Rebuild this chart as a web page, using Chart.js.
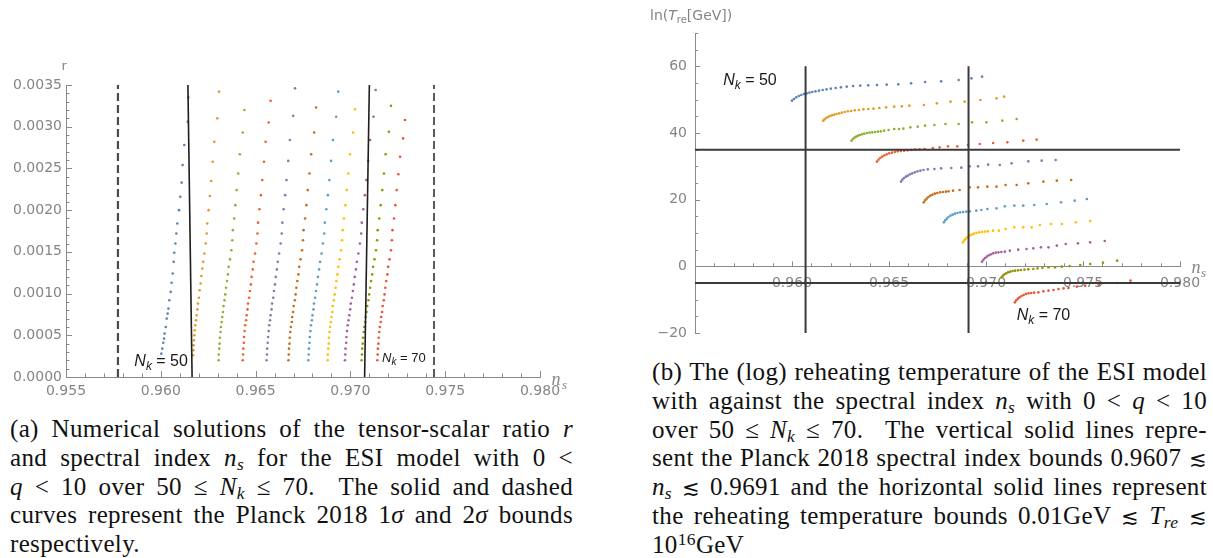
<!DOCTYPE html>
<html><head><meta charset="utf-8">
<script src="https://cdn.jsdelivr.net/npm/chart.js@4.4.1/dist/chart.umd.min.js"></script>
<style>
html,body{margin:0;padding:0;background:#fff;}
body{width:1213px;height:558px;overflow:hidden;position:relative;}
#c1{position:absolute;left:0;top:0;}
#c2{position:absolute;left:600px;top:0;}
.cap{position:absolute;font-family:"Liberation Serif","Times New Roman",serif;font-size:25px;letter-spacing:0.35px;line-height:28.75px;color:#111;}
.cap div{height:28.75px;text-align:justify;text-align-last:justify;}
.cap div.last{text-align:left;text-align-last:left;}
.cap sub{font-size:0.7em;vertical-align:-0.25em;line-height:0;}
.cap sup{font-size:0.7em;vertical-align:0.45em;line-height:0;}
.sym{font-family:"DejaVu Serif",serif;font-size:0.85em;}
</style></head>
<body>
<canvas id="c1" width="580" height="410"></canvas>
<canvas id="c2" width="613" height="350"></canvas>
<div class="cap" style="left:10px;top:415px;width:563px;">
<div>(a) Numerical solutions of the tensor-scalar ratio <i>r</i></div>
<div>and spectral index <i>n<sub>s</sub></i> for the ESI model with 0 &lt;</div>
<div><i>q</i> &lt; 10 over 50 ≤ <i>N<sub>k</sub></i> ≤ 70. &nbsp;The solid and dashed</div>
<div>curves represent the Planck 2018 1<i>σ</i> and 2<i>σ</i> bounds</div>
<div class="last">respectively.</div>
</div>
<div class="cap" style="left:652px;top:358px;width:555px;">
<div>(b) The (log) reheating temperature of the ESI model</div>
<div>with against the spectral index <i>n<sub>s</sub></i> with 0 &lt; <i>q</i> &lt; 10</div>
<div>over 50 ≤ <i>N<sub>k</sub></i> ≤ 70. &nbsp;The vertical solid lines repre-</div>
<div>sent the Planck 2018 spectral index bounds 0.9607 <span class="sym">≲</span></div>
<div><i>n<sub>s</sub></i> <span class="sym">≲</span> 0.9691 and the horizontal solid lines represent</div>
<div>the reheating temperature bounds 0.01GeV <span class="sym">≲</span> <i>T<sub>re</sub></i> <span class="sym">≲</span></div>
<div class="last">10<sup>16</sup>GeV</div>
</div>
<script>
// ---------------- data ----------------
const seriesColors = ['#5E81B5','#E19C24','#8FB032','#EB6235','#8778B3','#C56E1A','#5D9EC7','#FFBF00','#A5609D','#929600','#E95536'];

// (a) tensor-scalar ratio r vs n_s, one curve per N_k = 50,52,...,70
const leftNs = [
 [0.96145,0.96142,0.96124,0.96115,0.9611,0.96103,0.96096,0.96087,0.96082,0.96077,0.96071,0.96068,0.96063,0.96057,0.96052,0.96045,0.9604,0.96036,0.96031,0.96026,0.9602,0.96017,0.96013,0.96008,0.96003],
 [0.96307,0.96298,0.96282,0.96274,0.96266,0.96259,0.96252,0.96245,0.96242,0.96237,0.9623,0.96224,0.96219,0.96214,0.9621,0.96205,0.96201,0.96196,0.96193,0.96189,0.96186,0.96182,0.96179,0.96177,0.96175,0.96173,0.96172,0.9617],
 [0.96441,0.96432,0.96417,0.96408,0.964,0.96393,0.96387,0.9638,0.96377,0.96372,0.96365,0.96358,0.96354,0.96349,0.96344,0.9634,0.96336,0.96331,0.96328,0.96324,0.96321,0.96317,0.96315,0.96312,0.9631,0.96308,0.96306,0.96305],
 [0.96579,0.96569,0.96553,0.96544,0.96535,0.96528,0.9652,0.96513,0.9651,0.96504,0.96497,0.96489,0.96485,0.96479,0.96475,0.9647,0.96466,0.9646,0.96457,0.96453,0.9645,0.96445,0.96442,0.96439,0.96438,0.96435,0.96434,0.96432],
 [0.96708,0.96698,0.96681,0.96672,0.96663,0.96656,0.96648,0.96641,0.96638,0.96632,0.96624,0.96617,0.96612,0.96606,0.96602,0.96597,0.96593,0.96587,0.96584,0.96579,0.96576,0.96572,0.96569,0.96566,0.96564,0.96561,0.9656,0.96558],
 [0.96819,0.96809,0.96793,0.96784,0.96775,0.96768,0.96761,0.96753,0.9675,0.96745,0.96737,0.9673,0.96726,0.9672,0.96715,0.96711,0.96707,0.96701,0.96698,0.96693,0.96691,0.96686,0.96683,0.9668,0.96679,0.96676,0.96675,0.96673],
 [0.96936,0.96925,0.96908,0.96898,0.96889,0.96881,0.96873,0.96865,0.96862,0.96855,0.96848,0.9684,0.96835,0.96829,0.96824,0.96819,0.96814,0.96808,0.96805,0.968,0.96797,0.96792,0.96789,0.96786,0.96784,0.96781,0.9678,0.96778],
 [0.97024,0.97014,0.96998,0.96989,0.96981,0.96974,0.96966,0.96959,0.96956,0.96951,0.96943,0.96936,0.96932,0.96926,0.96922,0.96917,0.96913,0.96907,0.96905,0.969,0.96897,0.96893,0.9689,0.96887,0.96886,0.96883,0.96881,0.9688],
 [0.97133,0.97122,0.97104,0.97094,0.97084,0.97076,0.97068,0.9706,0.97057,0.9705,0.97042,0.97034,0.97029,0.97023,0.97018,0.97013,0.97008,0.97002,0.96999,0.96994,0.9699,0.96986,0.96982,0.96979,0.96978,0.96974,0.96973,0.96971],
 [0.97214,0.97203,0.97186,0.97177,0.97168,0.9716,0.97152,0.97144,0.97141,0.97135,0.97127,0.9712,0.97115,0.97109,0.97104,0.97099,0.97095,0.97089,0.97085,0.97081,0.97078,0.97073,0.9707,0.97067,0.97065,0.97062,0.97061,0.97059],
 [0.97288,0.97278,0.97262,0.97253,0.97244,0.97237,0.9723,0.97222,0.97219,0.97214,0.97206,0.97199,0.97195,0.97189,0.97184,0.9718,0.97176,0.9717,0.97167,0.97162,0.9716,0.97155,0.97152,0.97149,0.97148,0.97145,0.97144,0.97142]
];
const leftR = [
 [0.00335,0.00306,0.00278,0.00254,0.00233,0.00216,0.002,0.00184,0.00172,0.0016,0.00149,0.00138,0.00124,0.00113,0.00102,0.00092,0.00082,0.00076,0.0007,0.0006,0.00052,0.00046,0.00041,0.00034,0.00028],
 [0.00342,0.0031,0.00282,0.00258,0.00235,0.00217,0.002,0.00184,0.00172,0.0016,0.00148,0.00138,0.0013,0.00121,0.00112,0.00104,0.00095,0.00088,0.00081,0.00074,0.00068,0.00062,0.00056,0.0005,0.00044,0.00038,0.00032,0.00026],
 [0.0032,0.00293,0.00267,0.00244,0.00224,0.00206,0.0019,0.00176,0.00164,0.00152,0.00141,0.00132,0.00123,0.00115,0.00107,0.00099,0.00092,0.00085,0.00078,0.00072,0.00066,0.0006,0.00054,0.00047,0.0004,0.00034,0.00027,0.0002],
 [0.00331,0.00305,0.00282,0.00258,0.00236,0.00218,0.00201,0.00185,0.00172,0.0016,0.00148,0.00138,0.00129,0.0012,0.00111,0.00103,0.00095,0.00088,0.00081,0.00074,0.00068,0.00062,0.00055,0.00048,0.00041,0.00034,0.00027,0.0002],
 [0.00346,0.00313,0.00284,0.00259,0.00236,0.00218,0.00201,0.00185,0.00172,0.0016,0.00148,0.00138,0.00129,0.0012,0.00111,0.00103,0.00095,0.00088,0.00081,0.00074,0.00068,0.00062,0.00055,0.00048,0.00041,0.00034,0.00027,0.0002],
 [0.00323,0.00293,0.00267,0.00244,0.00224,0.00206,0.0019,0.00176,0.00164,0.00152,0.00141,0.00132,0.00123,0.00115,0.00107,0.00099,0.00092,0.00085,0.00078,0.00072,0.00066,0.0006,0.00054,0.00047,0.0004,0.00034,0.00027,0.0002],
 [0.00342,0.00312,0.00284,0.00259,0.00236,0.00218,0.00201,0.00185,0.00172,0.0016,0.00148,0.00138,0.00129,0.0012,0.00111,0.00103,0.00095,0.00088,0.00081,0.00074,0.00068,0.00062,0.00055,0.00048,0.00041,0.00034,0.00027,0.0002],
 [0.00321,0.00293,0.00267,0.00244,0.00224,0.00206,0.0019,0.00176,0.00164,0.00152,0.00141,0.00132,0.00123,0.00115,0.00107,0.00099,0.00092,0.00085,0.00078,0.00072,0.00066,0.0006,0.00054,0.00047,0.0004,0.00034,0.00027,0.0002],
 [0.00344,0.00312,0.00284,0.00259,0.00236,0.00218,0.00201,0.00185,0.00172,0.0016,0.00148,0.00138,0.00129,0.0012,0.00111,0.00103,0.00095,0.00088,0.00081,0.00074,0.00068,0.00062,0.00055,0.00048,0.00041,0.00034,0.00027,0.0002],
 [0.00325,0.00294,0.00267,0.00244,0.00224,0.00206,0.0019,0.00176,0.00164,0.00152,0.00141,0.00132,0.00123,0.00115,0.00107,0.00099,0.00092,0.00085,0.00078,0.00072,0.00066,0.0006,0.00054,0.00047,0.0004,0.00034,0.00027,0.0002],
 [0.00308,0.00286,0.00264,0.00243,0.00224,0.00206,0.0019,0.00176,0.00164,0.00152,0.00141,0.00132,0.00123,0.00115,0.00107,0.00099,0.00092,0.00085,0.00078,0.00072,0.00066,0.0006,0.00054,0.00047,0.0004,0.00034,0.00027,0.0002]
];
// Planck 2018 bounds in (a)
const left1SigmaA = [[0.96165,0],[0.96143,0.0035]];
const left1SigmaB = [[0.97075,0],[0.97100,0.0035]];
const left2SigmaA = [[0.95774,0],[0.95774,0.0035]];
const left2SigmaB = [[0.97441,0],[0.97441,0.0035]];

// (b) ln(T_re) vs n_s
const rightNs = [
 [0.96,0.9601,0.96022,0.96035,0.96048,0.96062,0.96076,0.9609,0.96105,0.96121,0.96139,0.96158,0.96178,0.962,0.96225,0.96252,0.96282,0.96315,0.96352,0.96393,0.96438,0.96488,0.96548,0.96614,0.96686,0.96769,0.96859,0.96925,0.9698],
 [0.96161,0.96168,0.96176,0.96185,0.96195,0.96206,0.96218,0.9623,0.96243,0.96257,0.96272,0.96288,0.96305,0.96324,0.96345,0.96368,0.96393,0.9642,0.9645,0.96485,0.96527,0.96566,0.96605,0.9668,0.96747,0.96817,0.9689,0.96971,0.97054,0.97094],
 [0.96307,0.96314,0.96322,0.96331,0.9634,0.9635,0.96361,0.96373,0.96386,0.964,0.96414,0.96428,0.96443,0.96458,0.96475,0.96498,0.96527,0.96552,0.96574,0.9661,0.96648,0.96686,0.96734,0.96791,0.96859,0.96928,0.97002,0.97084,0.97158],
 [0.96438,0.96446,0.96455,0.96465,0.96476,0.96488,0.96501,0.96515,0.9653,0.96545,0.96561,0.96578,0.96596,0.96615,0.96635,0.96658,0.96683,0.96726,0.96761,0.96804,0.96852,0.96907,0.96968,0.97037,0.9711,0.97192,0.97261],
 [0.96562,0.96569,0.96577,0.96587,0.96597,0.96608,0.9662,0.96633,0.96647,0.96662,0.96678,0.967,0.96734,0.96769,0.96821,0.96873,0.96916,0.96959,0.97011,0.97071,0.97132,0.97218,0.97287,0.97359],
 [0.96679,0.96686,0.96694,0.96703,0.96713,0.96724,0.96736,0.96749,0.96763,0.96778,0.96793,0.96807,0.9683,0.96864,0.96916,0.96959,0.97007,0.97054,0.97101,0.97158,0.97218,0.97296,0.97365,0.97439],
 [0.96783,0.9679,0.96798,0.96807,0.96817,0.96828,0.9684,0.96853,0.96867,0.96882,0.96898,0.96916,0.9695,0.96976,0.97007,0.97054,0.97097,0.97146,0.97192,0.97249,0.97313,0.97387,0.97457,0.9752],
 [0.96881,0.96888,0.96896,0.96905,0.96915,0.96926,0.96938,0.96951,0.96965,0.9698,0.96995,0.9701,0.97036,0.97066,0.97101,0.97146,0.97192,0.97235,0.97278,0.97335,0.97391,0.97463,0.97537],
 [0.9698,0.96987,0.96995,0.97004,0.97014,0.97025,0.97037,0.9705,0.97064,0.97079,0.97097,0.97123,0.97166,0.97209,0.97244,0.97283,0.97322,0.97365,0.97411,0.97474,0.97537,0.97612],
 [0.9708,0.97087,0.97095,0.97104,0.97114,0.97125,0.97137,0.9715,0.97165,0.9718,0.97198,0.97218,0.97244,0.97266,0.97291,0.97322,0.97356,0.97391,0.97432,0.97486,0.97537,0.97603,0.97676],
 [0.97149,0.97156,0.97164,0.97173,0.97183,0.97194,0.97206,0.97219,0.97233,0.97248,0.9727,0.97296,0.97322,0.97348,0.97374,0.974,0.97425,0.97468,0.97511,0.97581,0.97676,0.97745]
];
const rightT = [
 [49.7,50.2,50.7,51.1,51.4,51.7,51.9,52.1,52.3,52.5,52.7,52.9,53.1,53.3,53.5,53.7,53.9,54.1,54.2,54.3,54.4,54.5,54.6,54.9,55.3,55.5,55.9,56.4,56.9],
 [43.7,44.1,44.5,44.8,45.1,45.3,45.5,45.7,45.9,46.1,46.3,46.5,46.6,46.8,46.9,47.1,47.2,47.3,47.5,47.7,47.9,48.0,48.2,48.4,48.9,49.4,49.4,49.9,50.4,50.9],
 [37.7,38.2,38.6,38.9,39.2,39.4,39.6,39.8,40.0,40.1,40.2,40.3,40.4,40.5,40.7,40.9,41.2,41.2,41.3,41.7,41.9,42.2,42.4,42.7,42.7,43.2,43.2,43.7,44.2],
 [31.4,32.0,32.5,32.9,33.3,33.6,33.9,34.1,34.3,34.5,34.6,34.7,34.8,34.9,35.0,35.1,35.2,35.5,35.7,36.0,36.0,36.4,36.7,37.0,37.2,37.7,38.0],
 [25.4,26.0,26.5,26.9,27.2,27.6,27.9,28.2,28.5,28.7,28.9,29.1,29.2,29.4,29.5,29.6,30.0,30.0,30.5,30.4,30.9,31.5,31.7,31.9],
 [19.2,19.8,20.3,20.8,21.2,21.5,21.8,22.0,22.2,22.3,22.4,22.5,22.7,22.9,23.7,23.7,23.9,23.9,24.4,24.4,24.9,25.4,25.7,25.9],
 [13.2,13.8,14.3,14.8,15.2,15.5,15.8,16.0,16.2,16.3,16.4,16.5,16.7,16.9,17.2,17.4,18.0,18.2,18.2,18.4,18.7,19.2,19.7,20.2],
 [7.2,7.8,8.3,8.8,9.2,9.5,9.8,10.0,10.2,10.3,10.4,10.5,10.7,10.7,11.2,11.7,11.7,11.7,12.4,12.7,12.7,13.2,13.6],
 [1.4,2.0,2.5,2.9,3.3,3.6,3.9,4.1,4.2,4.3,4.4,4.7,5.0,5.2,5.4,5.7,5.7,6.2,6.7,6.9,7.2,7.6],
 [-3.3,-2.8,-2.4,-2.1,-1.8,-1.6,-1.4,-1.3,-1.2,-1.1,-1.0,-0.9,-0.8,-0.6,-0.5,-0.3,-0.3,-0.1,0.1,0.4,0.7,1.1,1.7],
 [-10.8,-10.2,-9.7,-9.3,-8.9,-8.6,-8.3,-8.1,-8.0,-7.9,-7.8,-7.5,-7.3,-7.1,-6.8,-6.6,-6.5,-6.1,-5.8,-5.5,-5.0,-4.3]
];
// bounds in (b)
const rightNsBounds = [0.9607, 0.9691];
const rightTBounds = [35, -5];
const rightBoundSpanT = [-20, 60];
const rightBoundSpanNs = [0.955, 0.980];

// ticks
const leftXTickValues = [0.955,0.960,0.965,0.970,0.975,0.980];
const leftXTickLabels = ['0.955','0.960','0.965','0.970','0.975','0.980'];
const leftYTickValues = [0,0.0005,0.001,0.0015,0.002,0.0025,0.003,0.0035];
const leftYTickLabels = ['0.0000','0.0005','0.0010','0.0015','0.0020','0.0025','0.0030','0.0035'];
const rightXTickValues = [0.960,0.965,0.970,0.975,0.980];
const rightXTickLabels = ['0.960','0.965','0.970','0.975','0.980'];
const rightYTickValues = [-20,0,20,40,60];
const rightYTickLabels = ['\u221220','0','20','40','60'];

// ---------------- helpers ----------------
const TICKFONT = 'DejaVu Sans';
const TICKCOLOR = '#858585';
const AXISCOLOR = '#8a8a8a';

function labelFor(vals, labs){
  return v => { const i = vals.findIndex(m => Math.abs(m - v) < 1e-9); return i < 0 ? '' : labs[i]; };
}
function isIn(vals, v){ return vals.some(m => Math.abs(m - v) < 1e-9); }

function richText(ctx, segs, x, y, align){
  let w = 0;
  segs.forEach(s => { ctx.font = s.f; s.w = ctx.measureText(s.t).width; w += s.w; });
  let cx = align === 'right' ? x - w : (align === 'center' ? x - w/2 : x);
  ctx.textBaseline = 'middle'; ctx.textAlign = 'left';
  segs.forEach(s => { ctx.font = s.f; ctx.fillStyle = s.c; ctx.fillText(s.t, cx, y + (s.dy || 0)); cx += s.w; });
}

const axisTicks = {
  id: 'axisTicks',
  beforeDatasetsDraw(chart, args, o){
    const ctx = chart.ctx, xs = chart.scales.x, ys = chart.scales.y;
    const y0 = ys.getPixelForValue(0), x0 = xs.getPixelForValue(xs.min);
    ctx.save(); ctx.strokeStyle = AXISCOLOR; ctx.lineWidth = 1; ctx.beginPath();
    xs.ticks.forEach(t => {
      if (Math.abs(t.value - xs.min) < 1e-9) return;
      const p = Math.round(xs.getPixelForValue(t.value)) + 0.5;
      const L = isIn(o.xMajor, t.value) ? o.major : o.minor;
      ctx.moveTo(p, y0); ctx.lineTo(p, y0 - L);
    });
    ys.ticks.forEach(t => {
      const p = Math.round(ys.getPixelForValue(t.value)) + 0.5;
      const L = isIn(o.yMajor, t.value) ? o.major : o.minor;
      ctx.moveTo(x0, p); ctx.lineTo(x0 + L, p);
    });
    ctx.stroke(); ctx.restore();
  }
};
const annots = {
  id: 'annots',
  afterDraw(chart, args, o){
    const ctx = chart.ctx, xs = chart.scales.x, ys = chart.scales.y;
    ctx.save();
    o.items.forEach(it => {
      const x = it.data ? xs.getPixelForValue(it.data[0]) : it.px[0];
      const y = it.data ? ys.getPixelForValue(it.data[1]) : it.px[1];
      richText(ctx, it.segs, x, y, it.align || 'left');
    });
    ctx.restore();
  }
};

function pointSets(nsArr, yArr){
  return nsArr.map((xs, i) => ({
    data: xs.map((x, j) => ({x: x, y: yArr[i][j]})),
    backgroundColor: seriesColors[i], borderColor: seriesColors[i],
    pointRadius: 1.3, pointBorderWidth: 0, pointHoverRadius: 0, showLine: false
  }));
}
function lineSet(pts, color, width, dash){
  return {data: pts.map(p => ({x: p[0], y: p[1]})), showLine: true, borderColor: color,
    borderWidth: width, borderDash: dash || [], pointRadius: 0, pointHoverRadius: 0, fill: false};
}

function axisOpts(min, max, step, vals, labs, extra){
  return Object.assign({
    type: 'linear', min: min, max: max,
    grid: {display: true, drawOnChartArea: false, drawTicks: false},
    border: {display: true, color: AXISCOLOR, width: 1},
    ticks: {stepSize: step, autoSkip: false, maxRotation: 0, minRotation: 0,
      color: TICKCOLOR, font: {family: TICKFONT, size: 14}, callback: labelFor(vals, labs)}
  }, extra);
}

// ---------------- chart (a) ----------------
const N = (n, sz, subsz, col) => [
  {t: 'N', f: 'italic ' + sz + 'px "Liberation Sans"', c: col},
  {t: 'k', f: 'italic ' + subsz + 'px "Liberation Sans"', c: col, dy: sz * 0.3},
  {t: ' = ' + n, f: sz + 'px "Liberation Sans"', c: col}
];

const xa = axisOpts(0.955, 0.980, 0.001, leftXTickValues, leftXTickLabels, {afterFit: s => { s.height = 30; }});
xa.ticks.padding = 6;
const ya = axisOpts(0, 0.0035, 0.0001, leftYTickValues, leftYTickLabels, {afterFit: s => { s.width = 66; }});
ya.ticks.padding = 4;

new Chart(document.getElementById('c1'), {
  type: 'scatter',
  data: {datasets: [
    lineSet(left1SigmaA, '#1e1e1e', 1.6),
    lineSet(left1SigmaB, '#1e1e1e', 1.6),
    lineSet(left2SigmaA, '#4a4a4a', 2.2, [8, 4]),
    lineSet(left2SigmaB, '#4a4a4a', 1.8, [8, 4])
  ].concat(pointSets(leftNs, leftR))},
  options: {
    responsive: false, animation: false, events: [],
    layout: {padding: {left: 0, right: 40, top: 85, bottom: 3}},
    plugins: {legend: {display: false}, tooltip: {enabled: false},
      axisTicks: {xMajor: leftXTickValues, yMajor: leftYTickValues, major: 6, minor: 3.5},
      annots: {items: [
        {data: [0.96143, 0.00018], align: 'right', segs: N(50, 16, 12, '#1a1a1a')},
        {data: [0.97167, 0.00022], align: 'left', segs: N(70, 13, 10, '#1a1a1a')},
        {px: [61.5, 66.5], segs: [{t: 'r', f: '13px "DejaVu Sans"', c: TICKCOLOR}]},
        {px: [551.5, 380], segs: [{t: 'n', f: 'italic 18px "Liberation Serif"', c: TICKCOLOR}]},
        {px: [562, 385.5], segs: [{t: 's', f: 'italic 13px "Liberation Serif"', c: TICKCOLOR}]}
      ]}
    },
    scales: {x: xa, y: ya}
  },
  plugins: [axisTicks, annots]
});

// ---------------- chart (b) ----------------
const xb = axisOpts(0.955, 0.980, 0.001, rightXTickValues, rightXTickLabels, {position: {y: 0}, afterFit: s => { s.height = 0; }});
xb.ticks.padding = 9;
const yb = axisOpts(-20, 70, 5, rightYTickValues, rightYTickLabels, {afterFit: s => { s.width = 95; }});
yb.ticks.padding = 8;

const bLines = [];
rightNsBounds.forEach(v => bLines.push(lineSet([[v, rightBoundSpanT[0]], [v, rightBoundSpanT[1]]], '#3a3a3a', 2)));
rightTBounds.forEach(v => bLines.push(lineSet([[rightBoundSpanNs[0], v], [rightBoundSpanNs[1], v]], '#3a3a3a', 2)));

new Chart(document.getElementById('c2'), {
  type: 'scatter',
  data: {datasets: bLines.concat(pointSets(rightNs, rightT))},
  options: {
    responsive: false, animation: false, events: [],
    layout: {padding: {left: 0, right: 33, top: 33, bottom: 17}},
    plugins: {legend: {display: false}, tooltip: {enabled: false},
      axisTicks: {xMajor: rightXTickValues, yMajor: rightYTickValues, major: 5, minor: 3},
      annots: {items: [
        {data: [0.95645, 55.6], align: 'left', segs: N(50, 16, 12, '#1a1a1a')},
        {data: [0.97158, -14.9], align: 'left', segs: N(70, 16, 12, '#1a1a1a')},
        {px: [50, 16], segs: [
          {t: 'ln(', f: '14px "DejaVu Sans"', c: TICKCOLOR},
          {t: 'T', f: 'italic 14px "DejaVu Sans"', c: TICKCOLOR},
          {t: 're', f: '10px "DejaVu Sans"', c: TICKCOLOR, dy: 4},
          {t: '[GeV])', f: '14px "DejaVu Sans"', c: TICKCOLOR}
        ]},
        {px: [591.5, 268], segs: [{t: 'n', f: 'italic 18px "Liberation Serif"', c: TICKCOLOR}]},
        {px: [601, 273.5], segs: [{t: 's', f: 'italic 13px "Liberation Serif"', c: TICKCOLOR}]}
      ]}
    },
    scales: {x: xb, y: yb}
  },
  plugins: [axisTicks, annots]
});
</script>
</body></html>
